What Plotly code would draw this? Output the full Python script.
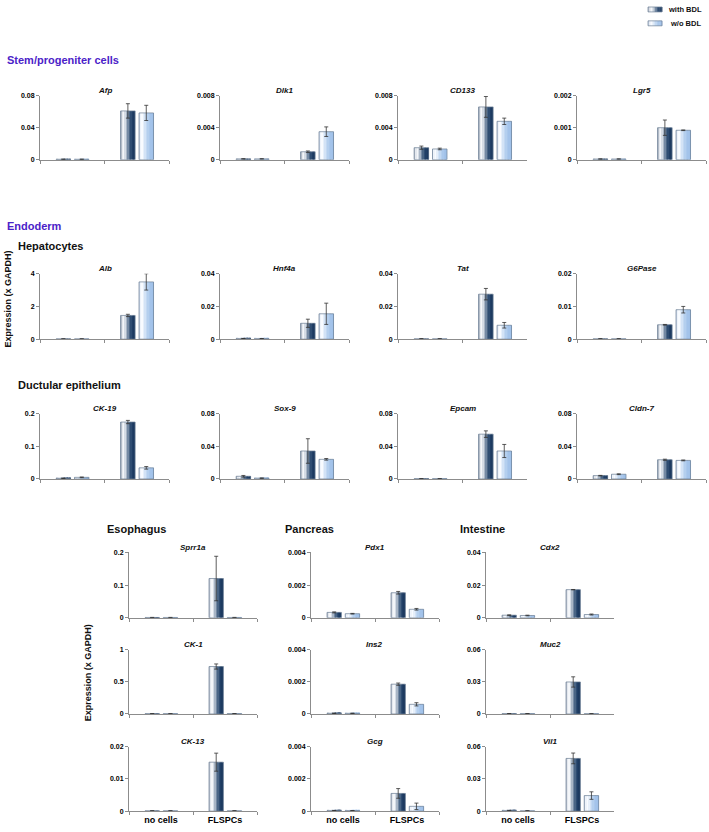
import plotly.graph_objects as go

# ---------------- data ----------------
categories = ["no cells", "FLSPCs"]
series_names = ["with BDL", "w/o BDL"]

genes = ["Afp", "Dlk1", "CD133", "Lgr5",
         "Alb", "Hnf4a", "Tat", "G6Pase",
         "CK-19", "Sox-9", "Epcam", "Cldn-7",
         "Sprr1a", "CK-1", "CK-13",
         "Pdx1", "Ins2", "Gcg",
         "Cdx2", "Muc2", "Vil1"]

with_bdl = [[0.0005, 0.061], [0.0001, 0.00099], [0.0015, 0.0066], [0.00002, 0.001],
            [0.015, 1.45], [0.0003, 0.0097], [0.0002, 0.0275], [0.0001, 0.0044],
            [0.002, 0.174], [0.0033, 0.0342], [0.0003, 0.0548], [0.0041, 0.0235],
            [0.001, 0.12], [0.004, 0.736], [0.0001, 0.0152],
            [0.00033, 0.00153], [0.00004, 0.00185], [0.00003, 0.0011],
            [0.0016, 0.0172], [0.0003, 0.0298], [0.0005, 0.0491]]
with_bdl_err = [[0.0002, 0.009], [0.00002, 0.0001], [0.0002, 0.0013], [0.000005, 0.00024],
                [0.005, 0.07], [0.0001, 0.0025], [0.0001, 0.0035], [0.00005, 0.0001],
                [0.0005, 0.005], [0.001, 0.015], [0.0001, 0.004], [0.0003, 0.0007],
                [0.0002, 0.068], [0.001, 0.04], [0.00002, 0.0028],
                [0.00003, 0.00008], [0.00001, 0.00007], [0.00001, 0.0003],
                [0.0002, 0.0001], [0.0001, 0.0048], [0.0002, 0.005]]
wo_bdl = [[0.0005, 0.0585], [0.0001, 0.0035], [0.00134, 0.0048], [0.00002, 0.00092],
          [0.015, 3.5], [0.0003, 0.0155], [0.0002, 0.0085], [0.0001, 0.009],
          [0.005, 0.034], [0.001, 0.024], [0.0003, 0.0342], [0.0058, 0.0227],
          [0.001, 0.001], [0.004, 0.005], [0.0001, 0.0001],
          [0.00025, 0.00052], [0.00004, 0.0006], [0.00003, 0.0003],
          [0.0014, 0.002], [0.0003, 0.0002], [0.0003, 0.0145]]
wo_bdl_err = [[0.0002, 0.0095], [0.00002, 0.0006], [0.0001, 0.0004], [0.000005, 0.00001],
              [0.005, 0.5], [0.0001, 0.0065], [0.0001, 0.0017], [0.00005, 0.001],
              [0.001, 0.004], [0.0002, 0.001], [0.0001, 0.008], [0.0005, 0.0005],
              [0.0002, 0.0002], [0.001, 0.001], [0.00002, 0.00002],
              [0.00002, 0.00005], [0.00001, 0.0001], [0.00001, 0.0002],
              [0.0002, 0.0003], [0.0001, 0.0001], [0.0001, 0.0035]]
y_max = [0.08, 0.008, 0.008, 0.002,
         4, 0.04, 0.04, 0.02,
         0.2, 0.08, 0.08, 0.08,
         0.2, 1, 0.02,
         0.004, 0.004, 0.004,
         0.04, 0.06, 0.06]
y_ticklabels = [["0", "0.04", "0.08"], ["0", "0.004", "0.008"], ["0", "0.004", "0.008"], ["0", "0.001", "0.002"],
                ["0", "2", "4"], ["0", "0.02", "0.04"], ["0", "0.02", "0.04"], ["0", "0.01", "0.02"],
                ["0", "0.1", "0.2"], ["0", "0.04", "0.08"], ["0", "0.04", "0.08"], ["0", "0.04", "0.08"],
                ["0", "0.1", "0.2"], ["0", "0.5", "1"], ["0", "0.01", "0.02"],
                ["0", "0.002", "0.004"], ["0", "0.002", "0.004"], ["0", "0.002", "0.004"],
                ["0", "0.02", "0.04"], ["0", "0.03", "0.06"], ["0", "0.03", "0.06"]]

# ---------------- layout helpers (pixels) ----------------
W, H = 709, 832
def fx(px): return px / W
def fy(py): return 1 - py / H

panel_boxes = []  # (x_left, width, y_top, y_bottom, show x labels)
for (yt, yb) in [(92.5, 157), (272, 338), (413, 479)]:
    for xl in [40, 220, 398, 577]:
        panel_boxes.append((xl, 129, yt, yb, False))
for xl in [129, 311, 486]:
    for j, (yt, yb) in enumerate([(553, 619), (651, 716), (749, 814)]):
        panel_boxes.append((xl, 128, yt, yb, j == 2))

FONT = "Arial, Liberation Sans, sans-serif"
with_cols = ["#b9c1cc", "#e4e8ee", "#f4f6f9", "#d5dce5", "#a9b6c6",
             "#7489a3", "#4a6585", "#2f4d72", "#213f66", "#1d3a60"]
wo_cols = ["#c9d6e6", "#eef3fa", "#f8fbff", "#e6effa", "#d3e3f6",
           "#c2d8f2", "#b4cfee", "#aac8ec", "#a3c3ea", "#a0c1e9"]
BW = 0.225
starts = [-0.25, 0.035]
NS = len(with_cols)

fig = go.Figure()
annotations = []
layout_axes = {}

for i, g in enumerate(genes):
    n = i + 1
    xa = "x" if n == 1 else f"x{n}"
    ya = "y" if n == 1 else f"y{n}"
    xl, w, yt, yb, showx = panel_boxes[i]
    for s, (vals, errs, cols) in enumerate([(with_bdl[i], with_bdl_err[i], with_cols),
                                            (wo_bdl[i], wo_bdl_err[i], wo_cols)]):
        for k, c in enumerate(cols):
            fig.add_trace(go.Bar(x=categories, y=vals, xaxis=xa, yaxis=ya,
                                 offset=starts[s] + k * BW / NS, width=BW / NS * 1.2 if k < NS - 1 else BW / NS,
                                 marker=dict(color=c, line=dict(width=0)),
                                 showlegend=False, hoverinfo="skip"))
        fig.add_trace(go.Bar(x=categories, y=vals, xaxis=xa, yaxis=ya, name=series_names[s],
                             offset=starts[s], width=BW,
                             marker=dict(color="rgba(0,0,0,0)", line=dict(color="#6d7f95", width=0.7)),
                             error_y=dict(type="data", array=errs, color="#333333", thickness=0.8, width=2),
                             showlegend=False))
    ym = y_max[i]
    layout_axes[f"xaxis{n if n > 1 else ''}"] = dict(
        domain=[fx(xl), fx(xl + w)], anchor=ya, type="category",
        categoryorder="array", categoryarray=categories, range=[-0.5, 1.5],
        showline=True, linecolor="#8c8c8c", linewidth=1, ticks="outside",
        tickson="boundaries", ticklen=3, tickcolor="#8c8c8c", showgrid=False,
        zeroline=False, showticklabels=showx,
        tickfont=dict(family=FONT, size=9, color="#000000"),
        ticktext=["<b>no cells</b>", "<b>FLSPCs</b>"], tickvals=categories)
    layout_axes[f"yaxis{n if n > 1 else ''}"] = dict(
        domain=[fy(yb), fy(yt)], anchor=xa, range=[0, ym],
        tickvals=[0, ym / 2, ym], ticktext=[f"<b>{t}</b>" for t in y_ticklabels[i]],
        ticks="outside", ticklen=3, tickcolor="#8c8c8c", showline=True,
        linecolor="#8c8c8c", linewidth=1, showgrid=False, zeroline=False,
        tickfont=dict(family=FONT, size=7, color="#000000"))
    annotations.append(dict(x=fx(xl + w / 2), y=fy(yt - 5), xref="paper", yref="paper",
                            text=f"<b><i>{g}</i></b>", showarrow=False, xanchor="center",
                            yanchor="middle", font=dict(family=FONT, size=8, color="#111111")))

# section headers
PURPLE = "#4b22c8"
headers = [("Stem/progeniter cells", 5, 56, PURPLE), ("Endoderm", 5, 224, PURPLE),
           ("Hepatocytes", 16, 244, "#111111"), ("Ductular epithelium", 16, 384, "#111111"),
           ("Esophagus", 105, 529, "#111111"), ("Pancreas", 283, 529, "#111111"),
           ("Intestine", 458, 529, "#111111")]
for t, x, y, c in headers:
    annotations.append(dict(x=fx(x), y=fy(y), xref="paper", yref="paper", text=f"<b>{t}</b>",
                            showarrow=False, xanchor="left", yanchor="middle",
                            font=dict(family=FONT, size=11, color=c)))
for x, y in [(8, 298), (88, 675)]:
    annotations.append(dict(x=fx(x), y=fy(y), xref="paper", yref="paper",
                            text="<b>Expression (x GAPDH)</b>", textangle=-90, showarrow=False,
                            xanchor="center", yanchor="middle",
                            font=dict(family=FONT, size=9, color="#111111")))

# legend (custom)
shapes = []
for (y0, cols, label, tx) in [(3, with_cols, "with BDL", 666), (17, wo_cols, "w/o BDL", 668)]:
    for k, c in enumerate(cols):
        x0 = 648 + k * 14 / NS
        shapes.append(dict(type="rect", xref="paper", yref="paper", x0=fx(x0), x1=fx(x0 + 14 / NS + 0.3),
                           y0=fy(y0 + 5), y1=fy(y0), fillcolor=c, line=dict(width=0)))
    shapes.append(dict(type="rect", xref="paper", yref="paper", x0=fx(648), x1=fx(662),
                       y0=fy(y0 + 5), y1=fy(y0), line=dict(color="#6d7f95", width=0.7)))
    annotations.append(dict(x=fx(tx), y=fy(y0 + 2.5), xref="paper", yref="paper", text=f"<b>{label}</b>",
                            showarrow=False, xanchor="left", yanchor="middle",
                            font=dict(family=FONT, size=7.5, color="#111111")))

fig.update_layout(width=W, height=H, margin=dict(l=0, r=0, t=0, b=0),
                  paper_bgcolor="white", plot_bgcolor="white", barmode="overlay",
                  showlegend=False, annotations=annotations, shapes=shapes, **layout_axes)

page_fix = (
    "var de=document.documentElement, b=document.body;"
    "de.style.margin='0';de.style.padding='0';de.style.overflow='hidden';de.style.height='832px';"
    "b.style.margin='0';b.style.padding='0';b.style.overflow='hidden';b.style.height='832px';"
)
fig.write_html("out.html", config={"displayModeBar": False}, post_script=page_fix)
